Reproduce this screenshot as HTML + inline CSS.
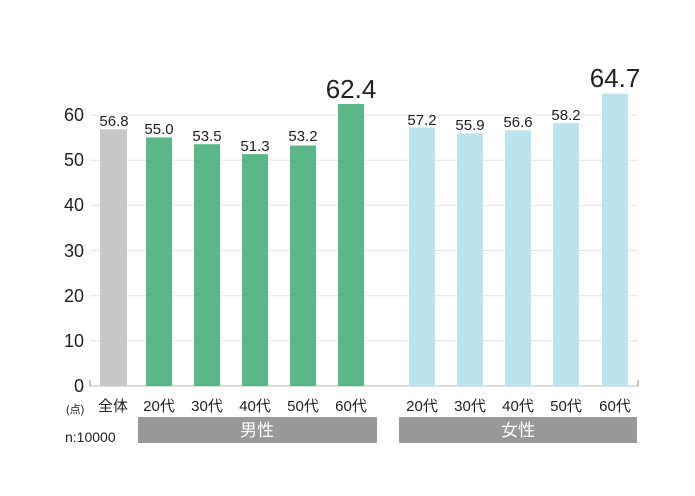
<!DOCTYPE html>
<html><head><meta charset="utf-8"><style>
body{margin:0;background:#fff;}
svg text{font-family:"Liberation Sans","Noto Sans CJK JP",sans-serif;fill:#222;}
</style></head><body>
<svg width="695" height="491" viewBox="0 0 695 491" xmlns="http://www.w3.org/2000/svg">
<g stroke="#e2e2e2" stroke-width="1">
<line x1="90" x2="638" y1="115" y2="115"/>
<line x1="90" x2="638" y1="160.2" y2="160.2"/>
<line x1="90" x2="638" y1="205.3" y2="205.3"/>
<line x1="90" x2="638" y1="250.5" y2="250.5"/>
<line x1="90" x2="638" y1="295.7" y2="295.7"/>
<line x1="90" x2="638" y1="340.8" y2="340.8"/>
</g>
<line x1="90" x2="638" y1="386" y2="386" stroke="#bbb"/>
<line x1="90" x2="90" y1="380" y2="386" stroke="#888"/>
<line x1="638" x2="638" y1="380" y2="386" stroke="#888"/>
<g font-size="18" text-anchor="end">
<text x="84" y="392">0</text><text x="84" y="347">10</text><text x="84" y="302">20</text>
<text x="84" y="257">30</text><text x="84" y="211">40</text><text x="84" y="166">50</text><text x="84" y="121">60</text>
</g>
<rect x="100" y="129.3" width="27" height="256.7" fill="#c8c8c8"/>
<g fill="#5bb78a">
<rect x="146" y="137.4" width="26" height="248.6"/>
<rect x="194" y="144.2" width="26" height="241.8"/>
<rect x="242" y="154.1" width="26" height="231.9"/>
<rect x="290" y="145.5" width="26" height="240.5"/>
<rect x="338" y="104" width="26" height="282"/>
</g>
<g fill="#bde3ee">
<rect x="409" y="127.5" width="26" height="258.5"/>
<rect x="457" y="133.3" width="26" height="252.7"/>
<rect x="505" y="130.2" width="26" height="255.8"/>
<rect x="553" y="123" width="26" height="263"/>
<rect x="602" y="93.6" width="26" height="292.4"/>
</g>
<g font-size="15" text-anchor="middle">
<text x="114" y="126">56.8</text>
<text x="159" y="134">55.0</text>
<text x="207" y="141">53.5</text>
<text x="255" y="151">51.3</text>
<text x="303" y="141">53.2</text>
<text x="422" y="125">57.2</text>
<text x="470" y="130">55.9</text>
<text x="518" y="127">56.6</text>
<text x="566" y="120">58.2</text>
</g>
<g font-size="26" text-anchor="middle">
<text x="351" y="98">62.4</text>
<text x="615" y="87">64.7</text>
</g>
<g font-size="15" text-anchor="middle">
<text x="113" y="411">全体</text>
<text x="159" y="411">20代</text><text x="207" y="411">30代</text><text x="255" y="411">40代</text><text x="303" y="411">50代</text><text x="351" y="411">60代</text>
<text x="422" y="411">20代</text><text x="470" y="411">30代</text><text x="518" y="411">40代</text><text x="566" y="411">50代</text><text x="615" y="411">60代</text>
</g>
<text x="66" y="413" font-size="11">(点)</text>
<text x="65" y="442" font-size="14">n:10000</text>
<rect x="138" y="417" width="239" height="26" fill="#999"/>
<rect x="399" y="417" width="238" height="26" fill="#999"/>
<text x="257" y="436" font-size="17" text-anchor="middle" style="fill:#fff">男性</text>
<text x="518" y="436" font-size="17" text-anchor="middle" style="fill:#fff">女性</text>
</svg>
</body></html>
